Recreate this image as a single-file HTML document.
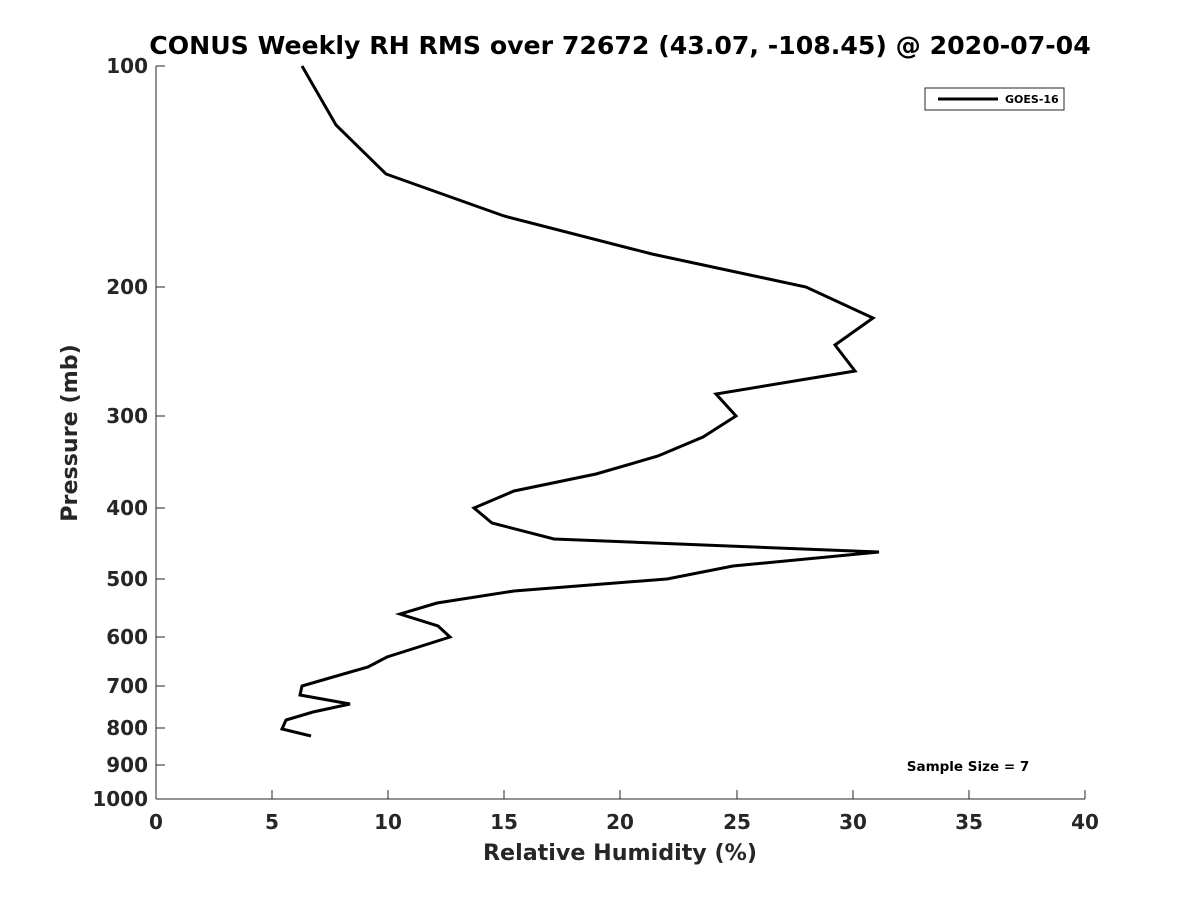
<!DOCTYPE html>
<html><head><meta charset="utf-8"><style>body{margin:0;background:#fff}</style></head><body>
<svg width="1200" height="900" xmlns="http://www.w3.org/2000/svg" font-family="DejaVu Sans, Liberation Sans, sans-serif" font-weight="bold">
<rect width="1200" height="900" fill="#fff"/>
<text x="620" y="54" text-anchor="middle" font-size="25.2" fill="#000">CONUS Weekly RH RMS over 72672 (43.07, -108.45) @ 2020-07-04</text>
<g stroke="#262626" stroke-width="1" fill="none">
<line x1="156" y1="66" x2="156" y2="799"/>
<line x1="156" y1="799" x2="1085" y2="799"/>
</g>
<g stroke="#262626" stroke-width="1">
<line x1="156" y1="66" x2="165" y2="66"/><line x1="156" y1="287" x2="165" y2="287"/><line x1="156" y1="416" x2="165" y2="416"/><line x1="156" y1="508" x2="165" y2="508"/><line x1="156" y1="579" x2="165" y2="579"/><line x1="156" y1="637" x2="165" y2="637"/><line x1="156" y1="686" x2="165" y2="686"/><line x1="156" y1="728" x2="165" y2="728"/><line x1="156" y1="765" x2="165" y2="765"/>
<line x1="272" y1="799" x2="272" y2="790"/><line x1="388" y1="799" x2="388" y2="790"/><line x1="504" y1="799" x2="504" y2="790"/><line x1="620" y1="799" x2="620" y2="790"/><line x1="737" y1="799" x2="737" y2="790"/><line x1="853" y1="799" x2="853" y2="790"/><line x1="969" y1="799" x2="969" y2="790"/><line x1="1085" y1="799" x2="1085" y2="790"/>
</g>
<g font-size="20" fill="#262626" text-anchor="end">
<text x="148" y="73">100</text><text x="148" y="294">200</text><text x="148" y="423">300</text><text x="148" y="515">400</text><text x="148" y="586">500</text><text x="148" y="644">600</text><text x="148" y="693">700</text><text x="148" y="735">800</text><text x="148" y="772">900</text><text x="148" y="806">1000</text>
</g>
<g font-size="20" fill="#262626" text-anchor="middle">
<text x="156" y="829">0</text><text x="272" y="829">5</text><text x="388" y="829">10</text><text x="504" y="829">15</text><text x="620" y="829">20</text><text x="737" y="829">25</text><text x="853" y="829">30</text><text x="969" y="829">35</text><text x="1085" y="829">40</text>
</g>
<text x="620" y="860" text-anchor="middle" font-size="22.2" fill="#262626">Relative Humidity (%)</text>
<text transform="translate(77,433) rotate(-90)" text-anchor="middle" font-size="22.2" fill="#262626">Pressure (mb)</text>
<polyline fill="none" stroke="#000" stroke-width="3" stroke-linejoin="miter" points="302,66 336,125 386,174 504,216 652,254 806,287 873,318 835,345 855,371 716,394 736,416 703,437 658,456 596,474 514,491 474,508 492,523 554,539 879,552 733,566 667,579 514,591 437,603 400,614 438,626 450,637 387,657 368,667 333,677 302,686 300,695 350,704 313,712 286,720 282,729 311,736"/>
<rect x="925" y="88" width="139" height="22" fill="#fff" stroke="#262626" stroke-width="1"/>
<line x1="938" y1="99" x2="998" y2="99" stroke="#000" stroke-width="3"/>
<text x="1005" y="103" font-size="11" fill="#000">GOES-16</text>
<text x="968" y="771" text-anchor="middle" font-size="13.5" fill="#000">Sample Size = 7</text>
</svg>
</body></html>
